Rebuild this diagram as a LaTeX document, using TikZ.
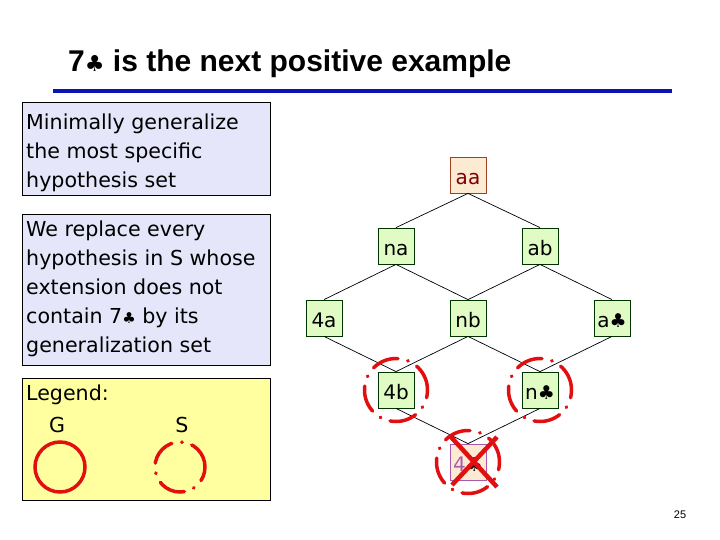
\documentclass[tikz,border=0pt]{standalone}
\usepackage{fontspec}
\setmainfont{DejaVu Sans}
\newfontfamily\titlefont{Liberation Sans}
\newfontfamily\clubfont{DejaVu Sans}
\definecolor{lav}{RGB}{230,230,250}
\definecolor{yel}{RGB}{255,255,160}
\definecolor{grn}{RGB}{224,252,196}
\definecolor{beige}{RGB}{252,234,210}
\definecolor{brownb}{RGB}{160,64,32}
\definecolor{darkred}{RGB}{128,0,0}
\definecolor{purp}{RGB}{170,90,170}
\definecolor{myred}{RGB}{225,15,15}
\definecolor{myblue}{RGB}{10,20,180}
\newcommand{\clb}{{\clubfont\fontsize{15}{15}\selectfont ♣}}
\newcommand{\clbn}{{\clubfont\fontsize{19}{19}\selectfont ♣}}
\tikzset{
  textbox/.style={draw=black, line width=0.8pt},
  boxtext/.style={anchor=north west, inner sep=0pt, align=left, font=\fontsize{20.6}{29}\selectfont},
  hyp/.style={draw=black!80!green, fill=grn, line width=0.8pt, minimum width=36pt, minimum height=36pt, inner sep=0pt, text height=19pt, text depth=0pt, font=\fontsize{20}{24}\selectfont},
  edge/.style={draw=black, line width=0.7pt},
  gcirc/.style={draw=myred, line width=3.5pt},
  scirc/.style={draw=myred, line width=3.5pt, line cap=round, dash pattern=on 27pt off 10pt on 0.5pt off 10pt},
  cross/.style={draw=myred, line width=4.5pt}
}
\begin{document}
\begin{tikzpicture}[x=1pt, y=-1pt]
\useasboundingbox (0,0) rectangle (720,540);
% title
\node[anchor=base west, inner sep=0pt, font=\titlefont\bfseries\fontsize{30}{36}\selectfont] (title) at (68,72) {7{\clubfont\fontsize{22}{22}\selectfont ♣} is the next positive example};
\draw[myblue, line width=4pt] (53,91) -- (672,91);
% left boxes
\draw[textbox, fill=lav] (22,102) rectangle (270,195);
\node[boxtext] (t1) at (26,108) {\rule{0pt}{21pt}Minimally generalize\\the most specific\\hypothesis set};
\draw[textbox, fill=lav] (22,214) rectangle (270,365);
\node[boxtext] (t2) at (26,215) {\rule{0pt}{21pt}We replace every\\hypothesis in S whose\\extension does not\\contain 7\clb{} by its\\generalization set};
\draw[textbox, fill=yel] (22,378) rectangle (270,500);
\node[boxtext] (t3) at (26,379) {\rule{0pt}{21pt}Legend:};
\node[anchor=base, inner sep=0pt, font=\fontsize{20.6}{29}\selectfont] (lg) at (57,432) {G};
\node[anchor=base, inner sep=0pt, font=\fontsize{20.6}{29}\selectfont] (ls) at (182,432) {S};
\node[gcirc, circle, minimum size=50pt, inner sep=0pt] (gc) at (60,467) {};
\node[scirc, circle, minimum size=50pt, inner sep=0pt] (sc) at (180,467) {};
% lattice
\node[hyp, draw=brownb, fill=beige, text=darkred] (aa) at (468,175) {aa};
\node[hyp] (na) at (396,246) {na};
\node[hyp] (ab) at (540,246) {ab};
\node[hyp] (4a) at (324,318) {4a};
\node[hyp] (nb) at (468,318) {nb};
\node[hyp] (ac) at (612,318) {a\clbn};
\node[hyp] (4b) at (396,390) {4b};
\node[hyp] (nc) at (540,390) {n\clbn};
\node[hyp, draw=purp, fill=beige, text=purp] (4c) at (468,462) {4\textcolor{black}{\clbn}};
\foreach \p/\c in {aa/na, aa/ab, na/4a, na/nb, ab/nb, ab/ac, 4a/4b, nb/4b, nb/nc, ac/nc, 4b/4c, nc/4c}
  \draw[edge] (\p.south) -- (\c.north);
% S circles
\node[scirc, circle, minimum size=63pt, inner sep=0pt] (s1) at (396,390) {};
\node[scirc, circle, minimum size=63pt, inner sep=0pt] (s2) at (540,390) {};
\node[scirc, circle, minimum size=63pt, inner sep=0pt] (s3) at (468,462) {};
% cross
\coordinate (x1) at (451,437);
\coordinate (x2) at (497,487);
\coordinate (x3) at (497,437);
\coordinate (x4) at (452,485);
\draw[cross] (x1) -- (x2);
\draw[cross] (x3) -- (x4);
% page number
\node[anchor=base, inner sep=0pt, font=\titlefont\fontsize{11}{13}\selectfont] (pn) at (680,518) {25};
\end{tikzpicture}
\end{document}
